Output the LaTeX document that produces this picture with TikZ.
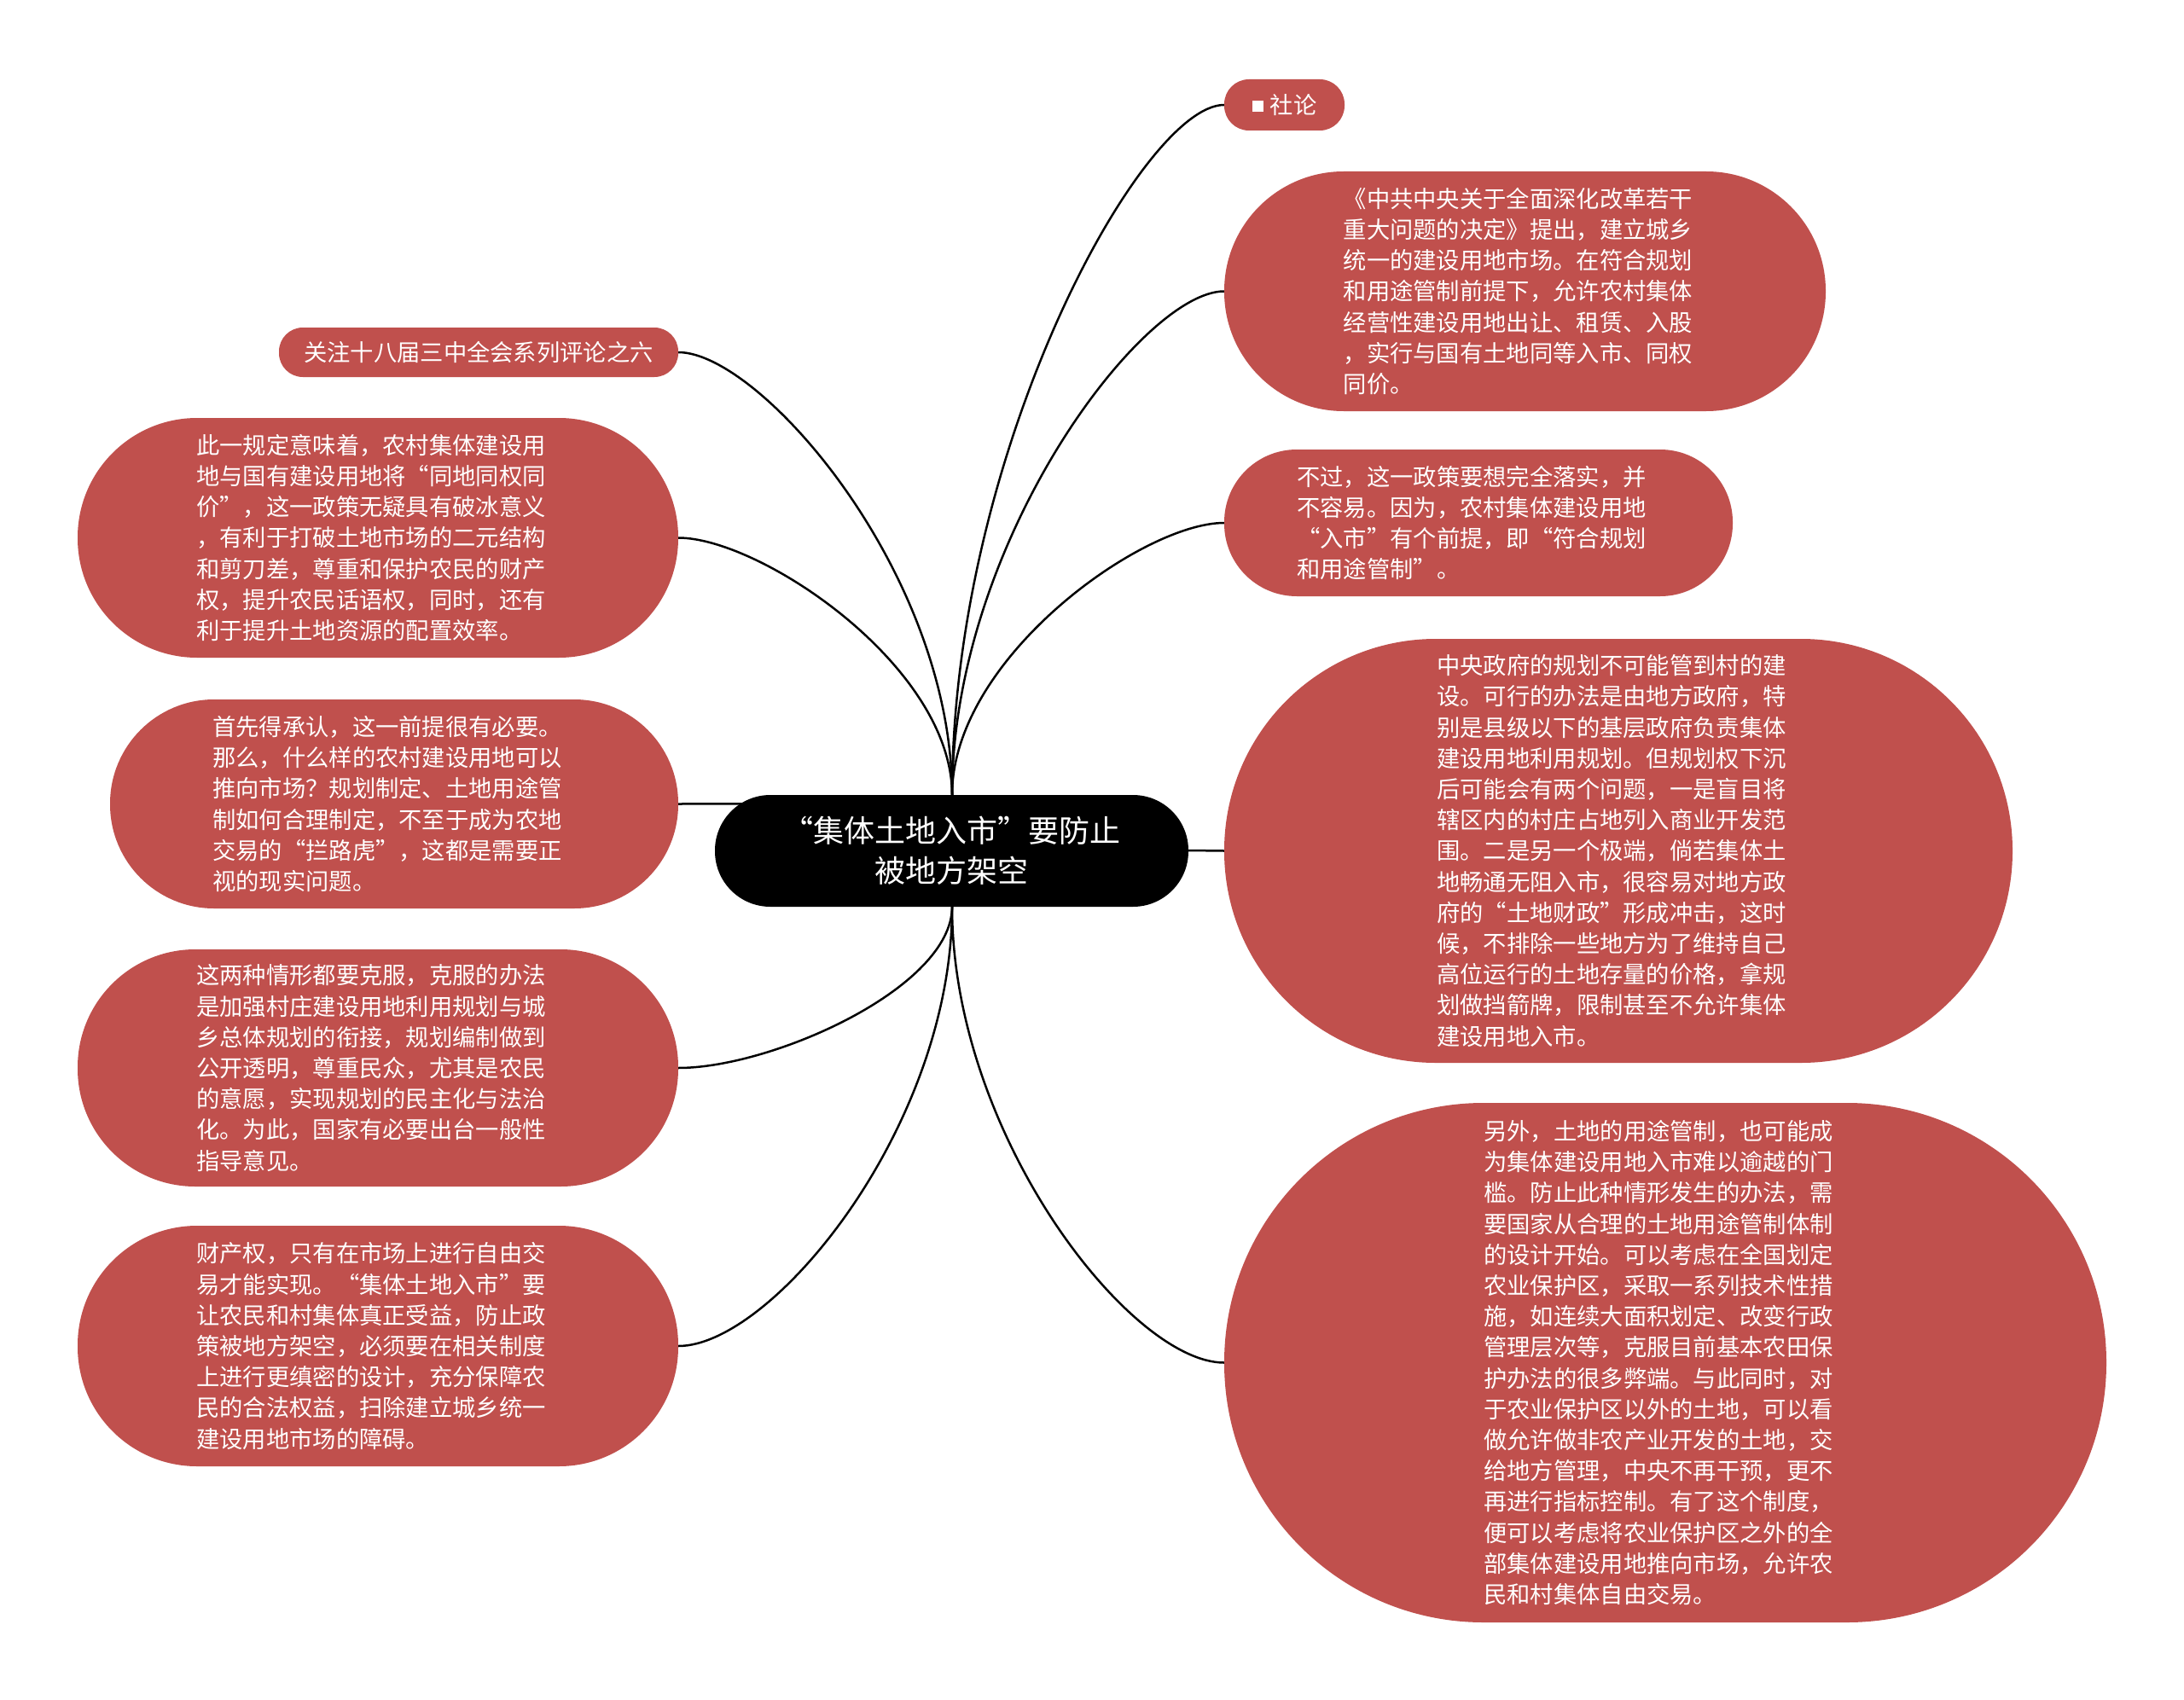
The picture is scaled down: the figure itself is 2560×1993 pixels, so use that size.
\documentclass[tikz,border=0pt]{standalone}
\usepackage{fontspec}
\setmainfont{Noto Sans CJK SC}
\definecolor{nodered}{RGB}{192,80,77}
\newcommand{\padr}{\kern16pt}
\begin{document}
\begin{tikzpicture}[x=1pt,y=-1pt,
  bub/.style={rectangle, fill=nodered, text=white, align=left, inner sep=0pt,
    font=\fontsize{27.3}{36.2}\selectfont},
  hub/.style={rectangle, fill=black, text=white, align=center, inner sep=0pt,
    font=\fontsize{36}{47}\selectfont},
  link/.style={draw=black, line width=2.5pt}]
\useasboundingbox[fill=white] (0,0) rectangle (2560,1993);

\coordinate (ctop) at (1116,932);
\coordinate (cbot) at (1116,1063);
\coordinate (cmid) at (1116,942);
\coordinate (cright) at (1393,997);

\node[bub, minimum width=141pt, minimum height=60pt, rounded corners=29pt] (s) at (1505.5,123) {\raisebox{2pt}{\rule{13pt}{13pt}}\hspace{8pt}社论};
\node[bub, minimum width=705pt, minimum height=281pt, rounded corners=140pt] (r1) at (1787.5,341.5) {《中共中央关于全面深化改革若干\padr\\重大问题的决定》提出，建立城乡\\统一的建设用地市场。在符合规划\\和用途管制前提下，允许农村集体\\经营性建设用地出让、租赁、入股\\，实行与国有土地同等入市、同权\\同价。};
\node[bub, minimum width=596pt, minimum height=172pt, rounded corners=85pt] (r2) at (1733,613) {不过，这一政策要想完全落实，并\padr\\不容易。因为，农村集体建设用地\\“入市”有个前提，即“符合规划\\和用途管制”。};
\node[bub, minimum width=924pt, minimum height=497pt, rounded corners=248pt] (r3) at (1897,997.5) {中央政府的规划不可能管到村的建\padr\\设。可行的办法是由地方政府，特\\别是县级以下的基层政府负责集体\\建设用地利用规划。但规划权下沉\\后可能会有两个问题，一是盲目将\\辖区内的村庄占地列入商业开发范\\围。二是另一个极端，倘若集体土\\地畅通无阻入市，很容易对地方政\\府的“土地财政”形成冲击，这时\\候，不排除一些地方为了维持自己\\高位运行的土地存量的价格，拿规\\划做挡箭牌，限制甚至不允许集体\\建设用地入市。};
\node[bub, minimum width=1034pt, minimum height=609pt, rounded corners=304pt] (r4) at (1952,1597.5) {另外，土地的用途管制，也可能成\padr\\为集体建设用地入市难以逾越的门\\槛。防止此种情形发生的办法，需\\要国家从合理的土地用途管制体制\\的设计开始。可以考虑在全国划定\\农业保护区，采取一系列技术性措\\施，如连续大面积划定、改变行政\\管理层次等，克服目前基本农田保\\护办法的很多弊端。与此同时，对\\于农业保护区以外的土地，可以看\\做允许做非农产业开发的土地，交\\给地方管理，中央不再干预，更不\\再进行指标控制。有了这个制度，\\便可以考虑将农业保护区之外的全\\部集体建设用地推向市场，允许农\\民和村集体自由交易。};
\node[bub, minimum width=468pt, minimum height=58pt, rounded corners=28pt] (l0) at (561,413) {关注十八届三中全会系列评论之六};
\node[bub, minimum width=704pt, minimum height=281pt, rounded corners=140pt] (l1) at (443,630.5) {此一规定意味着，农村集体建设用\padr\\地与国有建设用地将“同地同权同\\价”，这一政策无疑具有破冰意义\\，有利于打破土地市场的二元结构\\和剪刀差，尊重和保护农民的财产\\权，提升农民话语权，同时，还有\\利于提升土地资源的配置效率。};
\node[bub, minimum width=666pt, minimum height=245pt, rounded corners=122pt] (l2) at (462,942.5) {首先得承认，这一前提很有必要。\padr\\那么，什么样的农村建设用地可以\\推向市场？规划制定、土地用途管\\制如何合理制定，不至于成为农地\\交易的“拦路虎”，这都是需要正\\视的现实问题。};
\node[bub, minimum width=704pt, minimum height=278pt, rounded corners=138pt] (l3) at (443,1252) {这两种情形都要克服，克服的办法\padr\\是加强村庄建设用地利用规划与城\\乡总体规划的衔接，规划编制做到\\公开透明，尊重民众，尤其是农民\\的意愿，实现规划的民主化与法治\\化。为此，国家有必要出台一般性\\指导意见。};
\node[bub, minimum width=704pt, minimum height=282pt, rounded corners=140pt] (l4) at (443,1578) {财产权，只有在市场上进行自由交\padr\\易才能实现。“集体土地入市”要\\让农民和村集体真正受益，防止政\\策被地方架空，必须要在相关制度\\上进行更缜密的设计，充分保障农\\民的合法权益，扫除建立城乡统一\\建设用地市场的障碍。};

\path[link] (ctop) .. controls +(0,-404) and +(-96,0) .. (s.west);
\path[link] (ctop) .. controls +(0,-296) and +(-96,0) .. (r1.west);
\path[link] (ctop) .. controls +(0,-160) and +(-96,0) .. (r2.west);
\path[link] (ctop) .. controls +(0,-260) and +(96,0) .. (l0.east);
\path[link] (ctop) .. controls +(0,-151) and +(96,0) .. (l1.east);
\path[link] (l2.east) -- (cmid);
\path[link] (cright) -- (r3.west);
\path[link] (cbot) .. controls +(0,95) and +(110,0) .. (l3.east);
\path[link] (cbot) .. controls +(0,258) and +(110,0) .. (l4.east);
\path[link] (cbot) .. controls +(0,267) and +(-110,0) .. (r4.west);

\node[hub, minimum width=555pt, minimum height=131pt, rounded corners=65pt] (c) at (1115.5,997.5) {“集体土地入市”要防止\\被地方架空};
\end{tikzpicture}
\end{document}
